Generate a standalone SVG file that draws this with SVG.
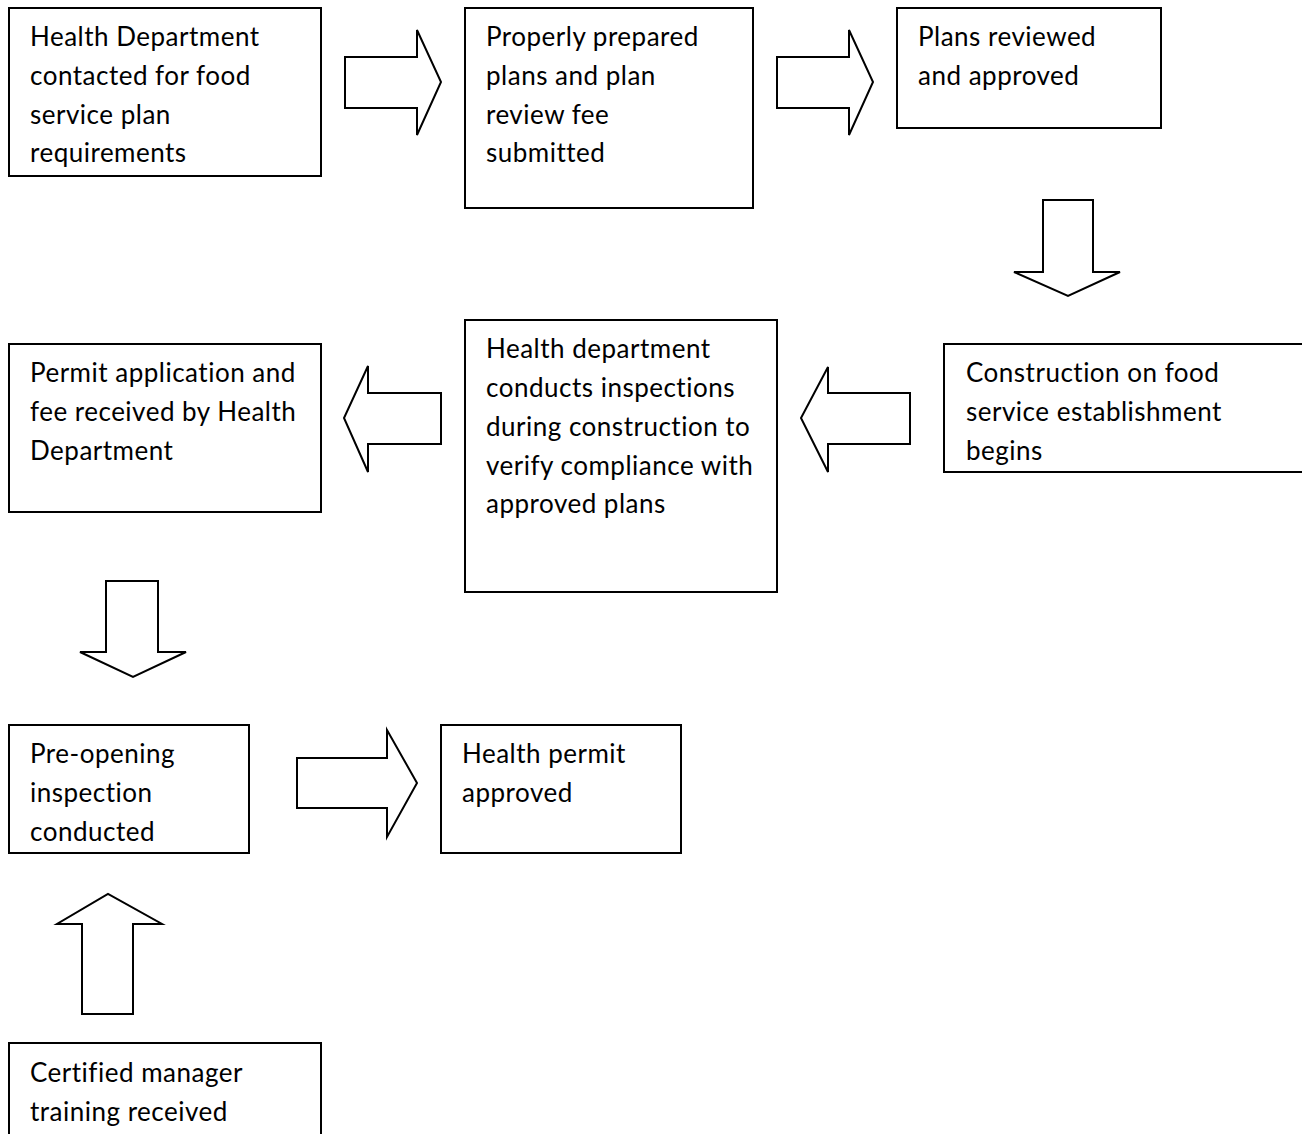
<svg xmlns="http://www.w3.org/2000/svg" width="1302" height="1134" viewBox="0 0 1302 1134">
<defs>
<style>
.box{fill:#fff;stroke:#000;stroke-width:2}
.arr{fill:#fff;stroke:#000;stroke-width:2;stroke-linejoin:miter}
.t{font-family:Lato,"Liberation Sans",sans-serif;font-size:26px;letter-spacing:0.5px;fill:#000}
</style>
<clipPath id="clipC"><rect x="944" y="344" width="358" height="121"/></clipPath>
</defs>
<rect width="1302" height="1134" fill="#fff"/>
<g id="connectors">
<polygon class="arr" points="345,57 417,57 417,30 441,82 417,135 417,108 345,108"/>
<polygon class="arr" points="777,57 849,57 849,30 873,82 849,135 849,108 777,108"/>
<polygon class="arr" points="1043,200 1093,200 1093,272 1120,272 1068,296 1014,272 1043,272"/>
<polygon class="arr" points="910,393 828,393 828,367 801,418 828,472 828,444 910,444"/>
<polygon class="arr" points="441,393 368,393 368,366 344,418 368,472 368,444 441,444"/>
<polygon class="arr" points="106,581 158,581 158,652 186,652 133,677 80,652 106,652"/>
<polygon class="arr" points="297,758 387,758 387,730 417,783 387,837 387,808 297,808"/>
<polygon class="arr" points="82,1014 82,924 57,924 108,894 162,924 133,924 133,1014"/>
</g>
<g id="n1"><rect class="box" x="9" y="8" width="312" height="168"/>
<text class="t" x="30" y="46">Health Department</text><text class="t" x="30" y="85">contacted for food</text><text class="t" x="30" y="124">service plan</text><text class="t" x="30" y="162">requirements</text></g>
<g id="n2"><rect class="box" x="465" y="8" width="288" height="200"/>
<text class="t" x="486" y="46">Properly prepared</text><text class="t" x="486" y="85">plans and plan</text><text class="t" x="486" y="124">review fee</text><text class="t" x="486" y="162">submitted</text></g>
<g id="n3"><rect class="box" x="897" y="8" width="264" height="120"/>
<text class="t" x="918" y="46">Plans reviewed</text><text class="t" x="918" y="85">and approved</text></g>
<g id="n4"><rect class="box" x="944" y="344" width="370" height="128"/>
<g clip-path="url(#clipC)"><text class="t" x="966" y="382">Construction on food</text><text class="t" x="966" y="421">service establishment</text><text class="t" x="966" y="460">begins</text></g></g>
<g id="n5"><rect class="box" x="465" y="320" width="312" height="272"/>
<text class="t" x="486" y="358">Health department</text><text class="t" x="486" y="397">conducts inspections</text><text class="t" x="486" y="436">during construction to</text><text class="t" x="486" y="475">verify compliance with</text><text class="t" x="486" y="513">approved plans</text></g>
<g id="n6"><rect class="box" x="9" y="344" width="312" height="168"/>
<text class="t" x="30" y="382">Permit application and</text><text class="t" x="30" y="421">fee received by Health</text><text class="t" x="30" y="460">Department</text></g>
<g id="n7"><rect class="box" x="9" y="725" width="240" height="128"/>
<text class="t" x="30" y="763">Pre-opening</text><text class="t" x="30" y="802">inspection</text><text class="t" x="30" y="841">conducted</text></g>
<g id="n8"><rect class="box" x="441" y="725" width="240" height="128"/>
<text class="t" x="462" y="763">Health permit</text><text class="t" x="462" y="802">approved</text></g>
<g id="n9"><rect class="box" x="9" y="1043" width="312" height="120"/>
<text class="t" x="30" y="1082">Certified manager</text><text class="t" x="30" y="1121">training received</text></g>
</svg>
